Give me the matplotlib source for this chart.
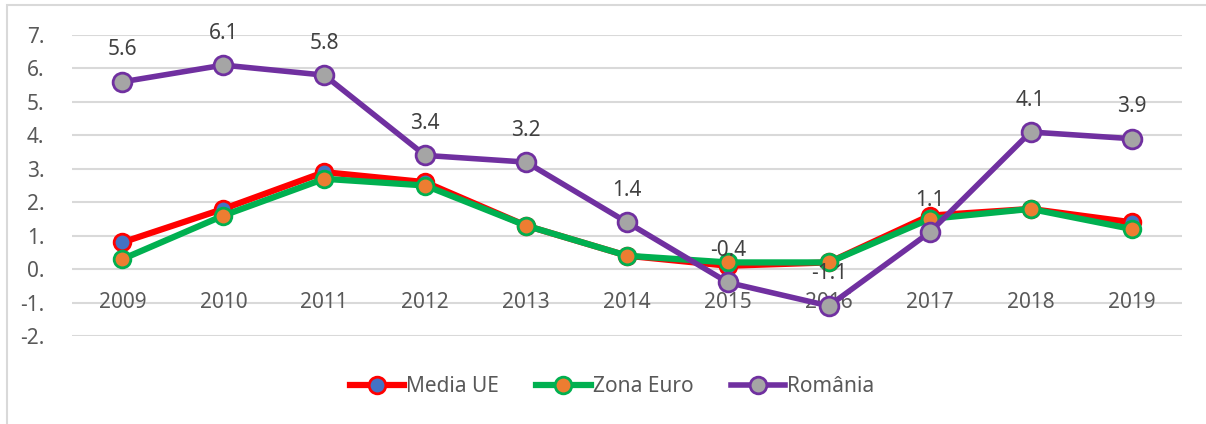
import matplotlib
matplotlib.use("Agg")
import matplotlib.pyplot as plt
from matplotlib.patches import Rectangle
from matplotlib.lines import Line2D

years = ["2009", "2010", "2011", "2012", "2013", "2014", "2015", "2016", "2017", "2018", "2019"]
media_ue = [0.8, 1.8, 2.9, 2.6, 1.3, 0.4, 0.1, 0.2, 1.6, 1.8, 1.4]
zona_euro = [0.3, 1.6, 2.7, 2.5, 1.3, 0.4, 0.2, 0.2, 1.5, 1.8, 1.2]
romania = [5.6, 6.1, 5.8, 3.4, 3.2, 1.4, -0.4, -1.1, 1.1, 4.1, 3.9]
yticks = [-2, -1, 0, 1, 2, 3, 4, 5, 6, 7]

plt.rcParams['font.family'] = ['Noto Sans', 'DejaVu Sans']
txt = '#595959'
fs = 15

fig = plt.figure(figsize=(12.06, 4.24), dpi=100)
# outer chart frame
fig.patches.append(Rectangle((7/1206, -0.05), 1.1, (424 - 5)/424 + 0.05,
                             transform=fig.transFigure, fill=False,
                             edgecolor='#d9d9d9', linewidth=1.5))

ax = fig.add_axes([72/1206, 1 - 336/424, 1110/1206, 301/424])
x = list(range(len(years)))

ax.plot(x, media_ue, color='#ff0000', lw=4.5, marker='o', ms=12,
        mfc='#4472c4', mec='#ff0000', mew=2, label='Media UE', zorder=3)
ax.plot(x, zona_euro, color='#00b050', lw=4.5, marker='o', ms=12,
        mfc='#ed7d31', mec='#00b050', mew=2, label='Zona Euro', zorder=4)
ax.plot(x, romania, color='#7030a0', lw=4, marker='o', ms=13.5,
        mfc='#a5a5a5', mec='#7030a0', mew=2, label='România', zorder=5)

for xi, v in zip(x, romania):
    ax.annotate(f"{v:.1f}", (xi, v), xytext=(0, 23), textcoords='offset points',
                ha='center', va='center', fontsize=fs, color='#404040', zorder=6)

ax.set_xlim(-0.5, len(years) - 0.5)
ax.set_ylim(-2, 7)
ax.set_yticks(yticks)
ax.set_yticklabels([f"{t}." for t in yticks])
ax.set_xticks([])
for xi, yr in zip(x, years):
    ax.text(xi, -1, yr, ha='center', va='center', fontsize=fs, color=txt, zorder=2)

ax.grid(axis='y', color='#d9d9d9', lw=1.5, zorder=0)
ax.tick_params(axis='y', length=0, labelsize=fs, labelcolor=txt, pad=20)
for s in ax.spines.values():
    s.set_visible(False)

handles = [
    Line2D([], [], color='#ff0000', lw=4.5, marker='o', ms=12, mfc='#4472c4', mec='#ff0000', mew=2),
    Line2D([], [], color='#00b050', lw=4.5, marker='o', ms=12, mfc='#ed7d31', mec='#00b050', mew=2),
    Line2D([], [], color='#7030a0', lw=4, marker='o', ms=12, mfc='#a5a5a5', mec='#7030a0', mew=2),
]
leg = fig.legend(handles, ['Media UE', 'Zona Euro', 'România'], loc='center',
                 bbox_to_anchor=(612/1206, 1 - 387/424), ncol=3, frameon=False,
                 fontsize=fs, handlelength=2.6, handletextpad=0.1, columnspacing=1.8)
for t in leg.get_texts():
    t.set_color(txt)

fig.savefig('out.png', dpi=100)
